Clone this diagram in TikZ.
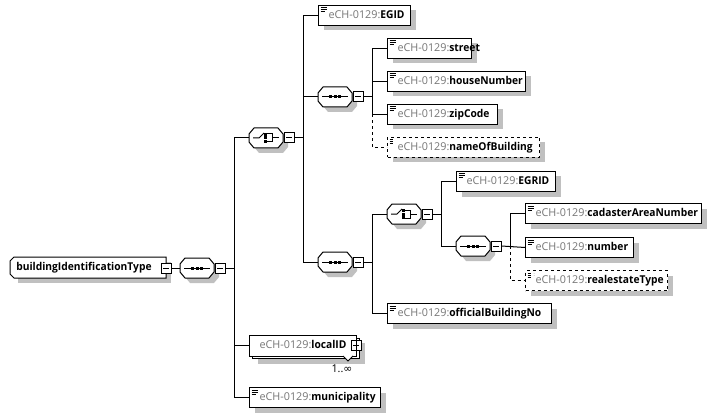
\documentclass[tikz,border=0pt]{standalone}
\usepackage{fontspec}
\setmainfont{Open Sans}[BoldFeatures={FakeStretch=0.95}]
\newfontfamily\dvfont{DejaVu Sans}
\usetikzlibrary{shadows,calc}
\definecolor{shadc}{RGB}{192,192,192}
\definecolor{pre}{RGB}{118,118,118}
\newcommand{\nm}[1]{\mbox{\hspace*{7.5pt}\textcolor{pre}{eCH-0129:}\textbf{#1}}}
\tikzset{
  x=0.75pt,y=-0.75pt,
  every node/.style={font=\fontsize{8.1pt}{10pt}\selectfont,text=black},
  shad/.style={general shadow={fill=shadc,shadow xshift=3.75pt,shadow yshift=-3.75pt}},
  box/.style 2 args={draw=black,line width=0.75pt,fill=white,shad,anchor=north west,inner sep=0pt,
    text width=#1*0.75pt-0.75pt,align=left,minimum height=#2*0.75pt,text height=6.4pt,text depth=2.4pt},
  el/.style={box={#1}{20}},
  doc/.style={path picture={
    \draw[line width=0.75pt] ([shift={(2,2.5)}]path picture bounding box.north west) -- ++(6,0);
    \draw[line width=0.75pt] ([shift={(2,4.5)}]path picture bounding box.north west) -- ++(6,0);
    \draw[line width=0.75pt] ([shift={(2,6.5)}]path picture bounding box.north west) -- ++(4,0);}},
  opt/.style={dash pattern=on 2.25pt off 2.25pt},
  btn/.style={draw=black,line width=0.75pt,fill=white,minimum size=7.5pt,inner sep=0pt,anchor=center,
    path picture={\draw[line width=0.75pt] ([xshift=1.5pt]path picture bounding box.west) -- ([xshift=-1.5pt]path picture bounding box.east);}},
  anchornode/.style={inner sep=0pt,minimum width=25.5pt,minimum height=15pt,anchor=center},
  conn/.style={line width=0.75pt},
  sym/.style={line width=0.75pt}
}
% compositor: octagon outline with its shadow, then a named node on top
\newcommand{\comp}[3]{%
  \fill[shadc,shift={(#2+5,#3+5)}] (-17,-4) -- (-12,-10) -- (12,-10) -- (17,-4) -- (17,4) -- (12,10) -- (-12,10) -- (-17,4) -- cycle;
  \draw[line width=0.75pt,fill=white,shift={(#2,#3)}] (-17,-4) -- (-12,-10) -- (12,-10) -- (17,-4) -- (17,4) -- (12,10) -- (-12,10) -- (-17,4) -- cycle;
  \node[anchornode] (#1) at (#2,#3) {};}
\newcommand{\seqsym}[1]{%
  \draw[sym] ($(#1.center)+(-13,0)$) -- ($(#1.center)+(13,0)$);
  \fill ($(#1.center)+(-6,-1.5)$) rectangle ++(3,3);
  \fill ($(#1.center)+(-1.5,-1.5)$) rectangle ++(3,3);
  \fill ($(#1.center)+(3,-1.5)$) rectangle ++(3,3);}
\newcommand{\chosym}[1]{%
  \draw[sym] ($(#1.center)+(-13,0)$) -- ($(#1.center)+(-7,0)$) -- ($(#1.center)+(-2,-5)$);
  \fill ($(#1.center)+(-2,-5)$) rectangle ++(3,3);
  \fill ($(#1.center)+(-2,-1.5)$) rectangle ++(3,3);
  \fill ($(#1.center)+(-2,2)$) rectangle ++(3,3);
  \draw[sym] ($(#1.center)+(1,-4)$) -- ($(#1.center)+(6,-4)$) -- ($(#1.center)+(6,4)$) -- ($(#1.center)+(1,4)$);
  \draw[sym] ($(#1.center)+(6,0)$) -- ($(#1.center)+(13,0)$);}
\begin{document}
\begin{tikzpicture}
\useasboundingbox (0,0) rectangle (717,417);
\comp{s1}{197}{268}
\comp{c1}{266}{138}
\comp{s2}{335}{97}
\comp{s3}{335}{262}
\comp{c2}{404}{214}
\comp{s4}{473}{246}
% root element
\fill[shadc] (18,262) -- (171,262) -- (171,283) -- (18,283) -- cycle;
\draw[line width=0.75pt,fill=white] (14,257) -- (166,257) -- (166,278) -- (14,278) -- (10,274) -- (10,261) -- cycle;
\node[inner sep=0pt,anchor=west] (root) at (16,268) {\textbf{buildingIdentificationType}};
\node[el=93,doc] (egid) at (318,5) {\nm{EGID}};
\node[el=85,doc] (street) at (387,38) {\nm{street}};
\node[el=139,doc] (house) at (387,71) {\nm{houseNumber}};
\node[el=111,doc] (zip) at (387,104) {\nm{zipCode}};
\node[el=153,doc,opt] (nameb) at (387,137) {\nm{nameOfBuilding}};
\node[el=100,doc] (egrid) at (456,171) {\nm{EGRID}};
\node[el=177,doc] (cad) at (525,203) {\nm{cadasterAreaNumber}};
\node[el=109,doc] (num) at (525,237) {\nm{number}};
\node[el=143,doc,opt] (real) at (525,270) {\nm{realestateType}};
\node[el=165,doc] (off) at (387,303) {\nm{officialBuildingNo}};
\node[box={108}{20.5},shad] (back) at (252,337.5) {};
\node[draw=black,line width=0.75pt,fill=white,anchor=north west,inner sep=0pt,text width=108*0.75pt-0.75pt,align=left,minimum height=15.4pt,text height=6.4pt,text depth=2.4pt] (loc) at (249,335) {\nm{localID}};
\node[el=132,doc] (muni) at (249,387) {\nm{municipality}};
% buttons
\node[btn] (rb) at (166,268) {};
\node[btn] (b1) at (220,268) {};
\node[btn] (b2) at (289,138) {};
\node[btn] (b3) at (358,97) {};
\node[btn] (b4) at (358,262) {};
\node[btn] (b5) at (427,214) {};
\node[btn] (b6) at (496,246) {};
\node[btn] (lb) at (356,345.5) {};
\draw[line width=0.75pt] (lb.north) -- (lb.south);
% symbols
\seqsym{s1}\seqsym{s2}\seqsym{s3}\seqsym{s4}
\chosym{c1}\chosym{c2}
% connectors
\coordinate (bus1) at (234,268);
\coordinate (bus2) at (303,138);
\coordinate (bus3) at (372,97);
\coordinate (bus4) at (372,262);
\coordinate (bus5) at (441,214);
\coordinate (bus6) at (510,246);
\draw[conn] (rb.east) -- (s1.west);
\draw[conn] (b1.east) -- (bus1);
\draw[conn] (b2.east) -- (bus2);
\draw[conn] (b3.east) -- (bus3);
\draw[conn] (b4.east) -- (bus4);
\draw[conn] (b5.east) -- (bus5);
\draw[conn] (b6.east) -- (num.west);
\draw[conn] (bus1) |- (c1.west);
\draw[conn] (bus1) |- (muni.west);
\draw[conn] (bus1 |- loc.west) -- (loc.west);
\draw[conn] (bus2) |- (egid.west);
\draw[conn] (bus2) |- (s2.west);
\draw[conn] (bus2) |- (s3.west);
\draw[conn] (bus3) |- (street.west);
\draw[conn] (bus3 |- house.west) -- (house.west);
\draw[conn] (bus3) |- (zip.west);
\draw[conn,opt] (bus3 |- zip.west) |- (nameb.west);
\draw[conn] (bus4) |- (c2.west);
\draw[conn] (bus4) |- (off.west);
\draw[conn] (bus5) |- (egrid.west);
\draw[conn] (bus5) |- (s4.west);
\draw[conn] (bus6) |- (cad.west);
\draw[conn,opt] (bus6) |- (real.west);
% multiplicity
\coordinate (w1) at (343,356);
\coordinate (w2) at (348,361);
\coordinate (w3) at (353,356);
\draw[line width=0.75pt,fill=white] (w1) -- (w2) -- (w3);
\node[inner sep=0pt,anchor=center] (mult) at (342,369) {1..{\dvfont ∞}};
\end{tikzpicture}
\end{document}
